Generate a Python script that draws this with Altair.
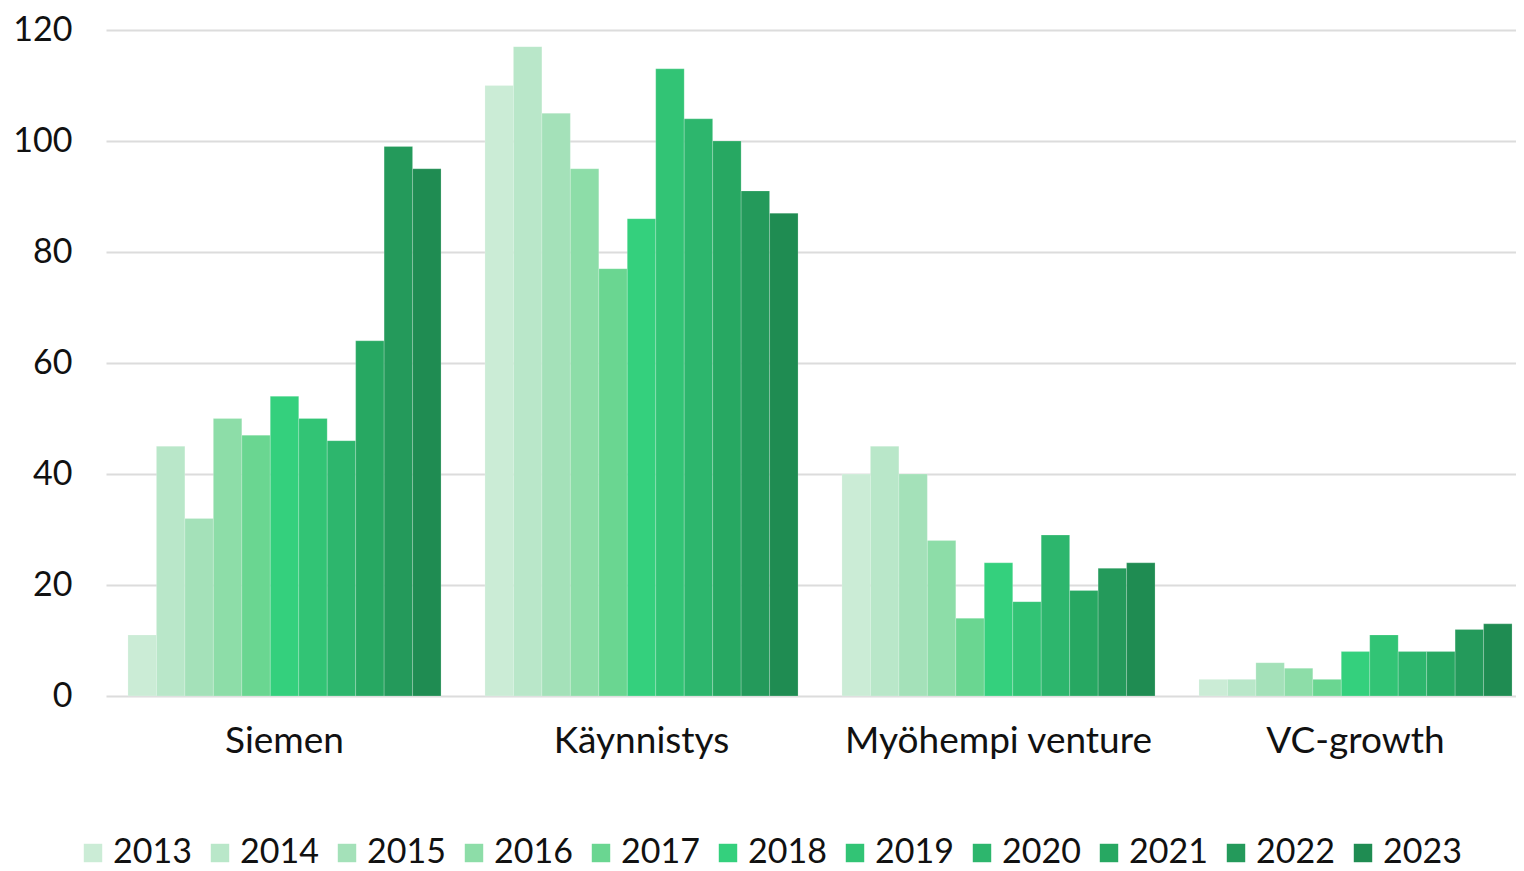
import altair as alt
import pandas as pd

categories = ["Siemen", "Käynnistys", "Myöhempi venture", "VC-growth"]
years = ["2013", "2014", "2015", "2016", "2017", "2018", "2019", "2020", "2021", "2022", "2023"]
siemen = [11, 45, 32, 50, 47, 54, 50, 46, 64, 99, 95]
kaynnistys = [110, 117, 105, 95, 77, 86, 113, 104, 100, 91, 87]
myohempi = [40, 45, 40, 28, 14, 24, 17, 29, 19, 23, 24]
vcgrowth = [3, 3, 6, 5, 3, 8, 11, 8, 8, 12, 13]
colors = ["#cbecd6", "#b9e7c9", "#a4e1b9", "#8ddda8", "#6ad691", "#34d07d",
          "#32c475", "#2db66d", "#27a862", "#249a5b", "#1f8c52"]

rows = []
for cat, vals in zip(categories, [siemen, kaynnistys, myohempi, vcgrowth]):
    for y, v in zip(years, vals):
        rows.append({"Vaihe": cat, "Vuosi": y, "Arvo": v})
df = pd.DataFrame(rows)

FONT = "Lato"
W = 400

chart = alt.Chart(df).mark_bar(stroke="white", strokeWidth=0.4, strokeOpacity=0.5).encode(
    x=alt.X("Vaihe:N", sort=categories, title=None,
            scale=alt.Scale(range=[0, 1428], paddingInner=0.123, paddingOuter=0.0615),
            axis=alt.Axis(labelAngle=0, domain=False, ticks=False, labelPadding=27,
                          labelFontSize=37, labelFont=FONT, labelFontWeight=W,
                          labelColor="#111111", labelLimit=0)),
    xOffset=alt.XOffset("Vuosi:N", sort=years),
    y=alt.Y("Arvo:Q", title=None,
            scale=alt.Scale(domain=[0, 120], nice=False),
            axis=alt.Axis(values=[0, 20, 40, 60, 80, 100, 120], domain=False, ticks=False,
                          labelPadding=34, labelFontSize=34, labelFont=FONT,
                          labelFontWeight=W, labelColor="#111111",
                          gridColor="#dcdcdc", gridWidth=2)),
    color=alt.Color("Vuosi:N", sort=years, scale=alt.Scale(domain=years, range=colors),
                    legend=alt.Legend(title=None, orient="none", direction="horizontal",
                                      legendX=-30, legendY=806, symbolType="square",
                                      symbolSize=340, symbolStrokeWidth=0,
                                      labelFontSize=34, labelFont=FONT, labelFontWeight=W,
                                      labelColor="#111111", columnPadding=11,
                                      labelOffset=3, labelLimit=0)),
).properties(
    width=1410, height=666,
    autosize=alt.AutoSizeParams(type="none"),
    padding={"left": 98, "top": 22, "right": 0, "bottom": 175},
).configure_view(stroke=None)

chart.save("out.html", embed_options={"renderer": "svg", "actions": False})
